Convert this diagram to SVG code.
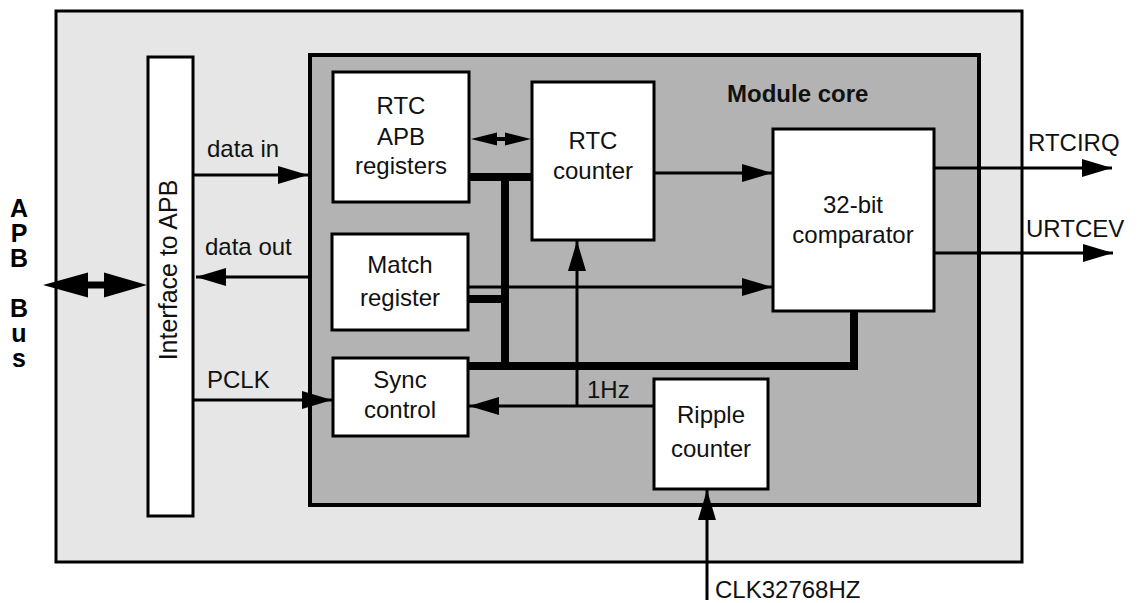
<svg xmlns="http://www.w3.org/2000/svg" width="1139" height="603" viewBox="0 0 1139 603">
<style>
.box{fill:#ffffff;stroke:#000;stroke-width:3}
.t{font-family:"Liberation Sans",Arial,sans-serif;font-size:24px;fill:#111}
.c{text-anchor:middle}
.b{font-weight:bold}
.bus{font-family:"Liberation Sans",Arial,sans-serif;font-weight:bold;font-size:25px;letter-spacing:-3px;fill:#000;writing-mode:vertical-rl;text-orientation:upright}
.ln{fill:none;stroke:#000;stroke-width:3}
.thick{fill:none;stroke:#000;stroke-width:8;stroke-linejoin:miter}
</style>
<defs>
<marker id="ah" markerUnits="userSpaceOnUse" markerWidth="30" markerHeight="18" refX="30" refY="9" orient="auto">
<path d="M0,0 L30,9 L0,18 z" fill="#000"/>
</marker>
</defs>
<rect x="0" y="0" width="1139" height="603" fill="#fff"/>
<g id="outer">
<rect x="56" y="11" width="966" height="551" fill="#e6e6e6" stroke="#000" stroke-width="3"/>
</g>
<g id="apb-bus-label">
<text class="bus" x="19" y="194">APB Bus</text>
</g>
<g id="module-core">
<rect x="310" y="55" width="669" height="450" fill="#b3b3b3" stroke="#000" stroke-width="4"/>
<text x="727" y="102" class="t b">Module core</text>
</g>
<g id="interface">
<rect x="148" y="57" width="45" height="459" class="box"/>
<text x="0" y="0" class="t c" style="font-size:25px" transform="translate(177,270) rotate(-90)">Interface to APB</text>
</g>
<g id="rtc-apb-registers">
<rect x="333" y="72" width="136" height="130" class="box"/>
<text x="401" y="114" class="t c">RTC</text>
<text x="401" y="145" class="t c">APB</text>
<text x="401" y="174" class="t c">registers</text>
</g>
<g id="rtc-counter">
<rect x="532" y="82" width="122" height="158" class="box"/>
<text x="593" y="149" class="t c">RTC</text>
<text x="593" y="179" class="t c">counter</text>
</g>
<g id="match-register">
<rect x="332" y="234" width="136" height="96" class="box"/>
<text x="400" y="273" class="t c">Match</text>
<text x="400" y="306" class="t c">register</text>
</g>
<g id="sync-control">
<rect x="333" y="358" width="135" height="78" class="box"/>
<text x="400" y="388" class="t c">Sync</text>
<text x="400" y="418" class="t c">control</text>
</g>
<g id="comparator">
<rect x="773" y="129" width="161" height="182" class="box"/>
<text x="853" y="213" class="t c">32-bit</text>
<text x="853" y="243" class="t c">comparator</text>
</g>
<g id="ripple-counter">
<rect x="654" y="379" width="114" height="110" class="box"/>
<text x="711" y="423" class="t c">Ripple</text>
<text x="711" y="457" class="t c">counter</text>
</g>
<g id="connectors">
<path class="thick" d="M470,177 H532"/>
<path class="thick" d="M505,177 V370"/>
<path class="thick" d="M469,299 H505"/>
<path class="thick" d="M469,366 H854 V311"/>
<path class="ln" d="M193,175 H308" marker-end="url(#ah)"/>
<path class="ln" d="M309,277 H196" marker-end="url(#ah)"/>
<path class="ln" d="M193,400 H332" marker-end="url(#ah)"/>
<path class="ln" d="M654,173 H772" marker-end="url(#ah)"/>
<path class="ln" d="M468,287 H772" marker-end="url(#ah)"/>
<path class="ln" d="M934,168 H1112" marker-end="url(#ah)"/>
<path class="ln" d="M934,253 H1113" marker-end="url(#ah)"/>
<path class="ln" d="M654,406 H469" marker-end="url(#ah)"/>
<path class="ln" d="M577,407 V241" marker-end="url(#ah)"/>
<path class="ln" d="M707,600 V490" marker-end="url(#ah)"/>
<polygon points="43,285 88,272.5 88,281.5 104,281.5 104,272.5 147,285 104,297.5 104,288.5 88,288.5 88,297.5" fill="#000"/>
<polygon points="471,139 497,132.5 497,137 505,137 505,132.5 531,139 505,145.5 505,141 497,141 497,145.5" fill="#000"/>
</g>
<g id="labels" class="t">
<text x="207" y="157">data in</text>
<text x="205" y="255">data out</text>
<text x="207" y="388">PCLK</text>
<text x="587" y="398">1Hz</text>
<text x="1028" y="151">RTCIRQ</text>
<text x="1026" y="237">URTCEV</text>
<text x="715" y="598">CLK32768HZ</text>
</g>
</svg>
